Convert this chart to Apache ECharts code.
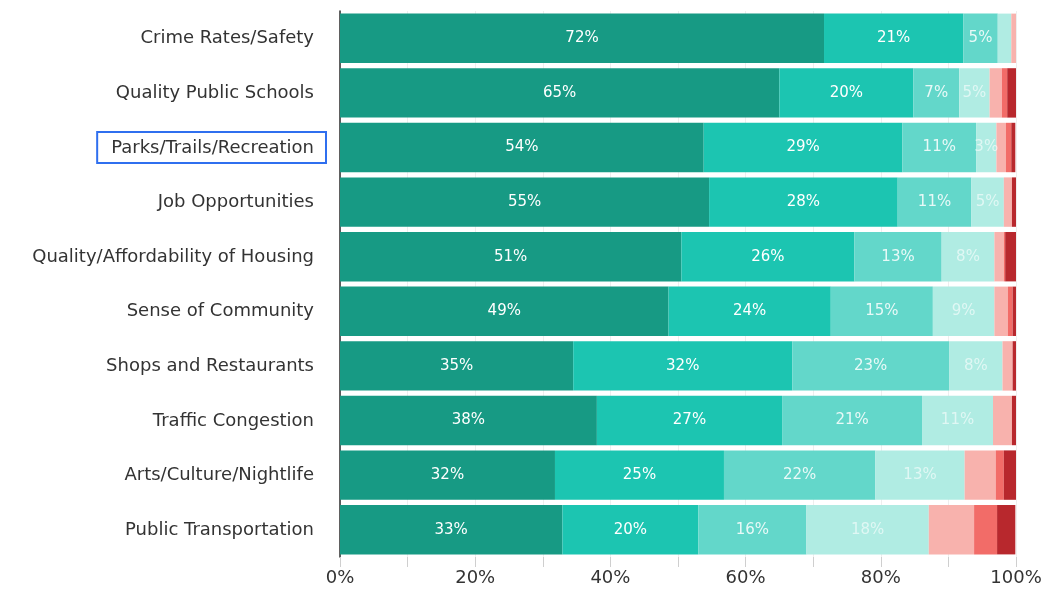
<!DOCTYPE html>
<html>
<head>
<meta charset="utf-8">
<script src="https://cdn.jsdelivr.net/npm/echarts@6/dist/echarts.min.js"></script>
<style>
  html, body { margin: 0; padding: 0; background: #fff; }
  #chart-container { width: 1055px; height: 590px; }
</style>
</head>
<body>
<div id="chart-container"></div>
<script>
// categories, top to bottom
const categories = [
    "Crime Rates/Safety",
    "Quality Public Schools",
    "Parks/Trails/Recreation",
    "Job Opportunities",
    "Quality/Affordability of Housing",
    "Sense of Community",
    "Shops and Restaurants",
    "Traffic Congestion",
    "Arts/Culture/Nightlife",
    "Public Transportation"
];
const highlighted = "Parks/Trails/Recreation";

// share of answers per rating, one array per rating (same order as categories)
const rating1 = [71.6, 65.0, 53.8, 54.6, 50.5, 48.6, 34.5, 38.0, 31.8, 32.9];
const rating2 = [20.6, 19.8, 29.4, 27.9, 25.6, 24.0, 32.4, 27.4, 25.0, 20.1];
const rating3 = [5.1, 6.8, 10.9, 10.9, 12.9, 15.1, 23.2, 20.7, 22.4, 16.0];
const rating4 = [2.0, 4.5, 3.0, 4.8, 7.8, 9.1, 7.9, 10.5, 13.2, 18.1];
const rating5 = [0.7, 1.8, 1.4, 1.2, 1.4, 2.0, 1.5, 2.8, 4.6, 6.7];
const rating6 = [0, 0.8, 0.8, 0, 0.2, 0.7, 0, 0, 1.2, 3.4];
const rating7 = [0, 1.4, 0.6, 0.6, 1.6, 0.5, 0.5, 0.6, 1.8, 2.7];

const ratingNames = ["Rating 1", "Rating 2", "Rating 3", "Rating 4", "Rating 5", "Rating 6", "Rating 7"];
const ratingColors = ["#179a84", "#1cc5b1", "#63d7ca", "#b0ece3", "#f8b2ad", "#f26c68", "#b8282d"];
// the labels fade out on the lighter greens, none on the reds
const labelColors = ["#fff", "#fff", "rgba(255,255,255,0.85)", "rgba(255,255,255,0.6)", null, null, null];
const ratingValues = [rating1, rating2, rating3, rating4, rating5, rating6, rating7];

const FONT = "DejaVu Sans";

var chartDom = document.getElementById("chart-container");
var myChart = echarts.init(chartDom);

var series = ratingValues.map((values, i) => ({
    name: ratingNames[i],
    type: "bar",
    stack: "total",
    data: values,
    barCategoryGap: "9.5%",
    itemStyle: {color: ratingColors[i]},
    label: {
        show: labelColors[i] !== null,
        position: "inside",
        color: labelColors[i] || "#fff",
        fontFamily: FONT,
        fontSize: 15,
        formatter: (p) => (p.value >= 3 ? Math.round(p.value) + "%" : "")
    }
}));

// every y label gets the same padding so the boxed one lines up with the rest
const labelBox = {color: "#333", fontFamily: FONT, fontSize: 18, padding: [7, 12, 6, 14]};

var option = {
    animation: false,
    backgroundColor: "#fff",
    grid: {left: 340, right: 39, top: 11, bottom: 33},
    xAxis: {
        type: "value",
        min: 0,
        max: 100,
        interval: 10,
        axisLine: {show: false},
        axisTick: {show: true, length: 10, lineStyle: {color: "#cfcfcf"}},
        splitLine: {show: true, lineStyle: {color: "#eeeeee"}},
        axisLabel: {
            color: "#333",
            fontFamily: FONT,
            fontSize: 18,
            margin: 12,
            formatter: (v) => (v % 20 === 0 ? v + "%" : "")
        }
    },
    yAxis: {
        type: "category",
        data: categories,
        inverse: true,
        axisLine: {show: true, lineStyle: {color: "#2b2b2b", width: 1.5}},
        axisTick: {show: false},
        axisLabel: {
            color: "#333",
            fontFamily: FONT,
            fontSize: 18,
            margin: 14,
            formatter: (v) => (v === highlighted ? "{hl|" + v + "}" : "{n|" + v + "}"),
            rich: {
                n: labelBox,
                hl: Object.assign({}, labelBox, {borderColor: "#2f6fef", borderWidth: 2})
            }
        }
    },
    series: series
};

option && myChart.setOption(option);
</script>
</body>
</html>
